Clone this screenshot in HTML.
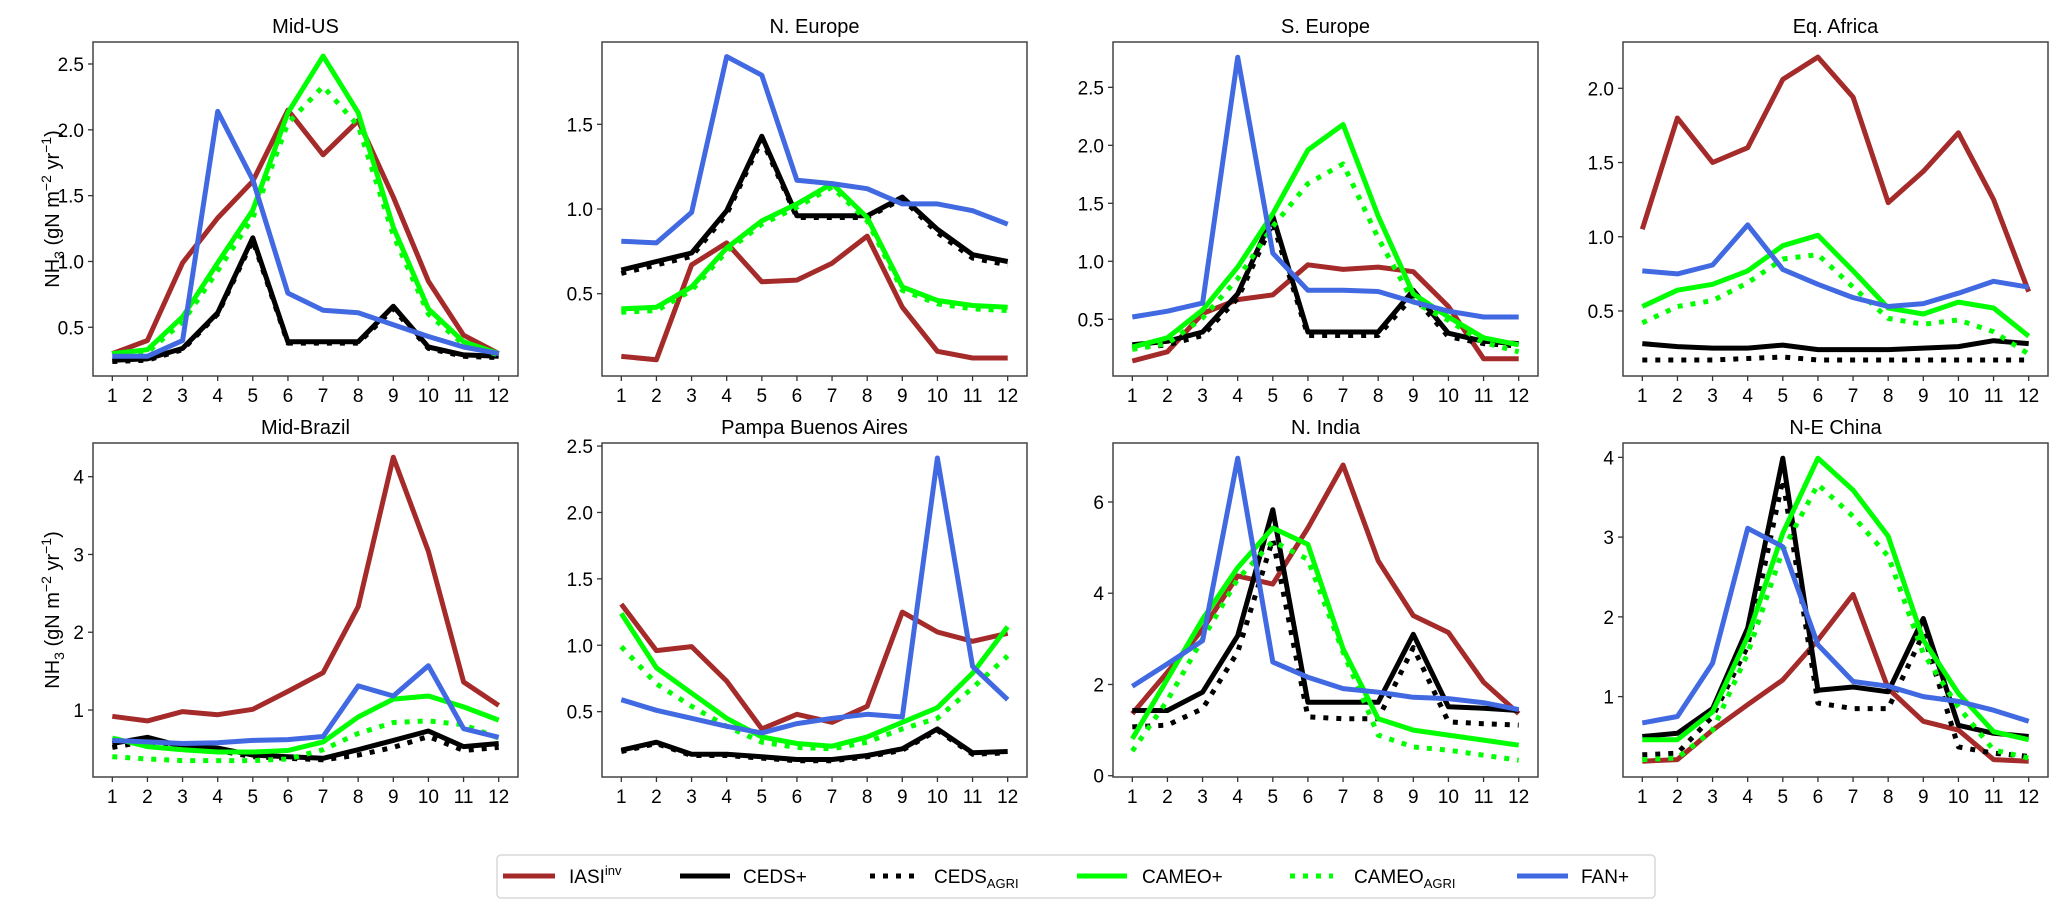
<!DOCTYPE html>
<html><head><meta charset="utf-8">
<style>
html,body{margin:0;padding:0;background:#fff;}
svg{display:block;font-family:"Liberation Sans","DejaVu Sans",sans-serif;}
</style></head>
<body>
<svg id="fig" width="2067" height="915" viewBox="0 0 2067 915" xmlns="http://www.w3.org/2000/svg">
<g id="panels"></g>
<g id="legend">
  <rect x="497" y="855" width="1158" height="43" rx="4" fill="#fff" stroke="#d8d8d8" stroke-width="1.5"/>
  <g>
    <line x1="503" y1="876" x2="555" y2="876" stroke="#a52a2a" stroke-width="5"/>
    <text x="569" y="883" font-size="19">IASI<tspan font-size="13" dy="-8">inv</tspan></text>
  </g>
  <g>
    <line x1="680" y1="876" x2="730" y2="876" stroke="#000" stroke-width="5"/>
    <text x="743" y="883" font-size="19">CEDS+</text>
  </g>
  <g>
    <line x1="870" y1="876" x2="915" y2="876" stroke="#000" stroke-width="5" stroke-dasharray="5,8"/>
    <text x="934" y="883" font-size="19">CEDS<tspan font-size="13" dy="5">AGRI</tspan></text>
  </g>
  <g>
    <line x1="1077" y1="876" x2="1127" y2="876" stroke="#00ff00" stroke-width="5"/>
    <text x="1142" y="883" font-size="19">CAMEO+</text>
  </g>
  <g>
    <line x1="1290" y1="876" x2="1333" y2="876" stroke="#00ff00" stroke-width="5" stroke-dasharray="5,8"/>
    <text x="1354" y="883" font-size="19">CAMEO<tspan font-size="13" dy="5">AGRI</tspan></text>
  </g>
  <g>
    <line x1="1517" y1="876" x2="1568" y2="876" stroke="#4169e1" stroke-width="5"/>
    <text x="1581" y="883" font-size="19">FAN+</text>
  </g>
</g>
</svg>
<script>
const months = [1,2,3,4,5,6,7,8,9,10,11,12];

const midUS_iasi = [0.30,0.40,0.99,1.33,1.61,2.15,1.81,2.07,1.49,0.85,0.44,0.30];
const midUS_ceds = [0.25,0.26,0.34,0.61,1.18,0.39,0.39,0.39,0.66,0.35,0.29,0.28];
const midUS_cedsAgri = [0.24,0.25,0.33,0.60,1.16,0.38,0.38,0.38,0.64,0.34,0.28,0.27];
const midUS_cameo = [0.30,0.33,0.58,0.99,1.39,2.13,2.56,2.13,1.26,0.64,0.39,0.30];
const midUS_cameoAgri = [0.29,0.31,0.54,0.93,1.33,2.05,2.33,2.03,1.20,0.60,0.37,0.29];
const midUS_fan = [0.28,0.28,0.40,2.14,1.62,0.76,0.63,0.61,0.52,0.43,0.35,0.30];

const nEur_iasi = [0.13,0.11,0.67,0.80,0.57,0.58,0.68,0.84,0.42,0.16,0.12,0.12];
const nEur_ceds = [0.64,0.69,0.74,0.99,1.43,0.96,0.96,0.96,1.07,0.88,0.73,0.69];
const nEur_cedsAgri = [0.62,0.67,0.72,0.97,1.41,0.95,0.95,0.95,1.06,0.86,0.71,0.67];
const nEur_cameo = [0.41,0.42,0.54,0.77,0.93,1.03,1.15,0.95,0.54,0.46,0.43,0.42];
const nEur_cameoAgri = [0.39,0.40,0.52,0.75,0.91,1.01,1.13,0.93,0.52,0.44,0.41,0.40];
const nEur_fan = [0.81,0.80,0.98,1.90,1.79,1.17,1.15,1.12,1.03,1.03,0.99,0.91];

const sEur_iasi = [0.14,0.22,0.55,0.67,0.71,0.97,0.93,0.95,0.91,0.61,0.16,0.16];
const sEur_ceds = [0.28,0.31,0.39,0.72,1.39,0.39,0.39,0.39,0.75,0.38,0.31,0.29];
const sEur_cedsAgri = [0.25,0.28,0.36,0.68,1.33,0.36,0.36,0.36,0.70,0.35,0.29,0.27];
const sEur_cameo = [0.26,0.34,0.58,0.95,1.41,1.96,2.18,1.39,0.72,0.52,0.34,0.28];
const sEur_cameoAgri = [0.24,0.29,0.51,0.85,1.30,1.67,1.84,1.20,0.65,0.49,0.30,0.22];
const sEur_fan = [0.52,0.57,0.64,2.76,1.07,0.75,0.75,0.74,0.65,0.57,0.52,0.52];

const eqAf_iasi = [1.05,1.80,1.50,1.60,2.06,2.21,1.94,1.23,1.44,1.70,1.25,0.63];
const eqAf_ceds = [0.28,0.26,0.25,0.25,0.27,0.24,0.24,0.24,0.25,0.26,0.30,0.28];
const eqAf_cedsAgri = [0.17,0.17,0.17,0.18,0.19,0.17,0.17,0.17,0.17,0.17,0.17,0.17];
const eqAf_cameo = [0.53,0.64,0.68,0.77,0.94,1.01,0.77,0.52,0.48,0.56,0.52,0.33];
const eqAf_cameoAgri = [0.42,0.53,0.57,0.69,0.85,0.88,0.66,0.45,0.41,0.44,0.36,0.21];
const eqAf_fan = [0.77,0.75,0.81,1.08,0.78,0.68,0.59,0.53,0.55,0.62,0.70,0.66];

const brz_iasi = [0.92,0.86,0.98,0.94,1.01,1.24,1.48,2.33,4.25,3.04,1.36,1.06];
const brz_ceds = [0.57,0.65,0.53,0.51,0.42,0.40,0.38,0.49,0.61,0.73,0.53,0.57];
const brz_cedsAgri = [0.52,0.60,0.50,0.48,0.40,0.38,0.36,0.42,0.52,0.66,0.48,0.52];
const brz_cameo = [0.64,0.53,0.49,0.46,0.46,0.48,0.59,0.91,1.14,1.18,1.04,0.87];
const brz_cameoAgri = [0.40,0.37,0.35,0.35,0.35,0.37,0.49,0.70,0.84,0.86,0.81,0.64];
const brz_fan = [0.61,0.59,0.57,0.58,0.61,0.62,0.66,1.31,1.18,1.57,0.76,0.65];

const pba_iasi = [1.31,0.96,0.99,0.73,0.37,0.48,0.42,0.54,1.25,1.10,1.03,1.09];
const pba_ceds = [0.21,0.27,0.18,0.18,0.16,0.14,0.14,0.17,0.22,0.37,0.19,0.20];
const pba_cedsAgri = [0.20,0.26,0.17,0.17,0.15,0.13,0.13,0.16,0.21,0.36,0.18,0.19];
const pba_cameo = [1.24,0.83,0.64,0.45,0.31,0.26,0.24,0.31,0.42,0.53,0.79,1.14];
const pba_cameoAgri = [0.99,0.71,0.54,0.39,0.27,0.23,0.22,0.27,0.37,0.45,0.68,0.92];
const pba_fan = [0.59,0.51,0.45,0.39,0.34,0.41,0.45,0.48,0.46,2.41,0.84,0.59];

const ind_iasi = [1.36,2.27,3.21,4.38,4.20,5.43,6.81,4.71,3.51,3.14,2.05,1.36];
const ind_ceds = [1.43,1.43,1.83,3.07,5.83,1.61,1.61,1.61,3.10,1.51,1.48,1.43];
const ind_cedsAgri = [1.07,1.11,1.47,2.71,5.18,1.29,1.25,1.25,2.81,1.18,1.14,1.11];
const ind_cameo = [0.81,2.12,3.43,4.56,5.43,5.07,2.78,1.25,1.00,0.89,0.78,0.67];
const ind_cameoAgri = [0.54,1.65,3.00,4.31,5.14,4.74,2.71,0.89,0.63,0.56,0.45,0.34];
const ind_fan = [1.96,2.45,2.96,6.96,2.49,2.16,1.91,1.83,1.72,1.69,1.60,1.45];

const chn_iasi = [0.19,0.21,0.58,0.90,1.21,1.71,2.28,1.10,0.69,0.58,0.21,0.19];
const chn_ceds = [0.50,0.54,0.85,1.86,3.99,1.08,1.12,1.06,1.98,0.64,0.54,0.50];
const chn_cedsAgri = [0.27,0.29,0.75,1.63,3.72,0.92,0.85,0.85,1.79,0.37,0.29,0.25];
const chn_cameo = [0.46,0.46,0.81,1.75,3.05,3.99,3.59,3.01,1.71,1.04,0.56,0.46];
const chn_cameoAgri = [0.21,0.23,0.58,1.54,2.84,3.66,3.26,2.76,1.54,0.87,0.33,0.23];
const chn_fan = [0.67,0.75,1.42,3.11,2.88,1.65,1.19,1.13,1.00,0.94,0.83,0.69];

const panelTitles = ["Mid-US","N. Europe","S. Europe","Eq. Africa","Mid-Brazil","Pampa Buenos Aires","N. India","N-E China"];
const yTicks = [[0.5,1.0,1.5,2.0,2.5],[0.5,1.0,1.5],[0.5,1.0,1.5,2.0,2.5],[0.5,1.0,1.5,2.0],[1,2,3,4],[0.5,1.0,1.5,2.0,2.5],[0,2,4,6],[1,2,3,4]];
const yTickLabels = [["0.5","1.0","1.5","2.0","2.5"],["0.5","1.0","1.5"],["0.5","1.0","1.5","2.0","2.5"],["0.5","1.0","1.5","2.0"],["1","2","3","4"],["0.5","1.0","1.5","2.0","2.5"],["0","2","4","6"],["1","2","3","4"]];
const yMin = [0.13,0.014,0.011,0.062,0.139,0.008,-0.028,-0.008];
const yMax = [2.667,1.986,2.891,2.312,4.433,2.523,7.293,4.18];

const panelSeries = [
  [midUS_iasi,midUS_ceds,midUS_cedsAgri,midUS_cameo,midUS_cameoAgri,midUS_fan],
  [nEur_iasi,nEur_ceds,nEur_cedsAgri,nEur_cameo,nEur_cameoAgri,nEur_fan],
  [sEur_iasi,sEur_ceds,sEur_cedsAgri,sEur_cameo,sEur_cameoAgri,sEur_fan],
  [eqAf_iasi,eqAf_ceds,eqAf_cedsAgri,eqAf_cameo,eqAf_cameoAgri,eqAf_fan],
  [brz_iasi,brz_ceds,brz_cedsAgri,brz_cameo,brz_cameoAgri,brz_fan],
  [pba_iasi,pba_ceds,pba_cedsAgri,pba_cameo,pba_cameoAgri,pba_fan],
  [ind_iasi,ind_ceds,ind_cedsAgri,ind_cameo,ind_cameoAgri,ind_fan],
  [chn_iasi,chn_ceds,chn_cedsAgri,chn_cameo,chn_cameoAgri,chn_fan]
];
const seriesKeys = ["iasi","ceds","ceds-agri","cameo","cameo-agri","fan"];

const NS = "http://www.w3.org/2000/svg";
const styles = [
  {c:"#a52a2a",d:null},{c:"#000000",d:null},{c:"#000000",d:"5,8"},
  {c:"#00ff00",d:null},{c:"#00ff00",d:"5,8"},{c:"#4169e1",d:null}
];
const lefts = [93,602,1113,1623];
const tops = [42,443];
const W = 425, H = 334;

function mk(tag, attrs, parent){
  const e = document.createElementNS(NS, tag);
  for (const k in attrs) e.setAttribute(k, attrs[k]);
  parent.appendChild(e);
  return e;
}

const root = document.getElementById("panels");
for (let p = 0; p < 8; p++){
  const L = lefts[p % 4], T = tops[Math.floor(p / 4)];
  const xs = v => L + W * (v - 0.45) / 12.1;
  const ys = v => T + H * (yMax[p] - v) / (yMax[p] - yMin[p]);
  const g = mk("g", {}, root);
  
  

  const title = mk("text", {x: L + W/2, y: T - 9, "text-anchor":"middle", "font-size":"20"}, g);
  title.textContent = panelTitles[p];
  
  

  // series
  for (let s = 0; s < 6; s++){
    const vals = panelSeries[p][s];
    const pts = months.map((m,i) => xs(m).toFixed(1) + "," + ys(vals[i]).toFixed(1)).join(" ");
    const attrs = {points: pts, fill:"none", stroke: styles[s].c, "stroke-width":"5", "stroke-linejoin":"round"};
    if (styles[s].d) attrs["stroke-dasharray"] = styles[s].d;
    const pl = mk("polyline", attrs, g);
    
    
  }

  const frame = mk("rect", {x:L, y:T, width:W, height:H, fill:"none", stroke:"#444", "stroke-width":"1.5"}, g);
  
  

  // x ticks
  const xg = mk("g", {}, g);
  
  
  months.forEach(m => {
    const x = xs(m);
    mk("line", {x1:x, y1:T+H, x2:x, y2:T+H+5, stroke:"#333", "stroke-width":"1.3"}, xg);
    const t = mk("text", {x:x, y:T+H+26, "text-anchor":"middle", "font-size":"19"}, xg);
    t.textContent = String(m);
  });

  // y ticks
  const yg = mk("g", {}, g);
  
  
  yTicks[p].forEach((v,i) => {
    const y = ys(v);
    mk("line", {x1:L-5, y1:y, x2:L, y2:y, stroke:"#333", "stroke-width":"1.3"}, yg);
    const t = mk("text", {x:L-9, y:y+7, "text-anchor":"end", "font-size":"19"}, yg);
    t.textContent = yTickLabels[p][i];
  });

  if (p % 4 === 0){
    const cy = T + H/2;
    const yl = mk("text", {x:0, y:0, "text-anchor":"middle", "font-size":"20", transform:"translate(59," + cy + ") rotate(-90)"}, g);
    
    
    yl.innerHTML = 'NH<tspan font-size="14" dy="5">3</tspan><tspan dy="-5"> (gN m</tspan><tspan font-size="14" dy="-8">−2</tspan><tspan dy="8"> yr</tspan><tspan font-size="14" dy="-8">−1</tspan><tspan dy="8">)</tspan>';
  }
}
</script>
</body></html>
